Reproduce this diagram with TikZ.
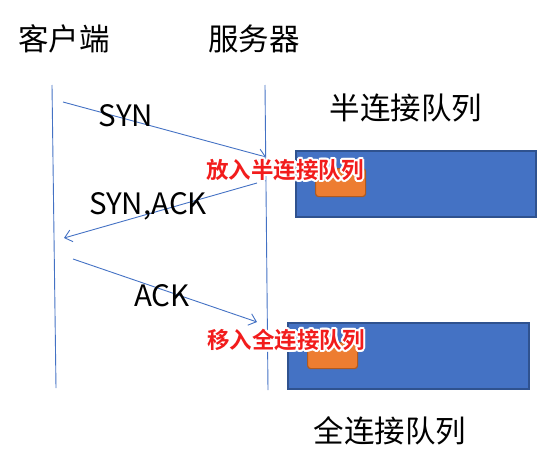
\documentclass[tikz,border=0pt]{standalone}
\usepackage{fontspec}
\setmainfont{Noto Sans CJK SC}
\newfontfamily\cjkbold{Noto Sans CJK SC Bold}
\usetikzlibrary{arrows.meta,calc}
\definecolor{lineblue}{HTML}{4472C4}
\definecolor{boxblue}{HTML}{4472C4}
\definecolor{boxedge}{HTML}{2F528F}
\definecolor{orangefill}{HTML}{ED7D31}
\definecolor{orangeedge}{HTML}{AE5A21}
\definecolor{alertred}{HTML}{F21C1C}
\tikzset{
  lbl/.style={font=\fontsize{30.5}{33}\selectfont, inner sep=0pt},
  msg/.style={font=\fontsize{29.5}{32}\selectfont, inner sep=0pt},
  lifeline/.style={draw=lineblue, line width=0.9pt},
  msgarrow/.style={draw=lineblue, line width=0.9pt, -{Straight Barb[length=7pt,width=12pt,line width=0.9pt]}},
  queue/.style={draw=boxedge, line width=1.8pt, fill=boxblue},
  item/.style={draw=orangeedge, line width=1.2pt, fill=orangefill, rounded corners=3pt},
  halo/.style={font=\cjkbold\fontsize{22.5}{25}\selectfont, inner sep=0pt, text=white},
  redtxt/.style={font=\cjkbold\fontsize{22.5}{25}\selectfont, inner sep=0pt, text=alertred},
}
\newcommand{\haloed}[3]{%
  \foreach \a in {0,30,...,330}{\node[halo] at ($(#1)+(\a:1.8)$) {#3};}
  \node[redtxt] (#2) at (#1) {#3};}
\begin{document}
\begin{tikzpicture}[x=1pt,y=-1pt]
\useasboundingbox (0,0) rectangle (555,474);
% headings
\node[lbl] (client) at (64,39) {客户端};
\node[lbl] (server) at (254,39) {服务器};
% lifelines
\coordinate (ct) at (52,85); \coordinate (cb) at (56,388);
\coordinate (st) at (265,85); \coordinate (sb) at (268,390);
\draw[lifeline] (ct) -- (cb);
\draw[lifeline] (st) -- (sb);
% queues
\node[queue, minimum width=240pt, minimum height=66pt, anchor=north west] (halfq) at (295,150) {};
\node[item, minimum width=50pt, minimum height=28pt, anchor=north west] (halfitem) at (315,168) {};
\node[queue, minimum width=241pt, minimum height=66pt, anchor=north west] (fullq) at (287,322) {};
\node[item, minimum width=50pt, minimum height=26pt, anchor=north west] (fullitem) at (307,342) {};
\node[lbl] (halfqlbl) at (406,108) {半连接队列};
\node[lbl] (fullqlbl) at (390,431) {全连接队列};
% messages
\coordinate (syn1) at (63,102); \coordinate (syn2) at (266,157);
\coordinate (sa1) at (257,183); \coordinate (sa2) at (64,238);
\coordinate (ack1) at (73,259); \coordinate (ack2) at (257,322);
\draw[msgarrow] (syn1) -- (syn2);
\draw[msgarrow] (sa1) -- (sa2);
\draw[msgarrow] (ack1) -- (ack2);
\node[msg] (synlbl) at (126,116) {SYN};
\node[msg] (salbl) at (148,206) {SYN,ACK};
\node[msg] (acklbl) at (162,296) {ACK};
% red notes
\coordinate (n1) at (285,170);
\coordinate (n2) at (286,340);
\haloed{n1}{note1}{放入半连接队列}
\haloed{n2}{note2}{移入全连接队列}
\end{tikzpicture}
\end{document}
